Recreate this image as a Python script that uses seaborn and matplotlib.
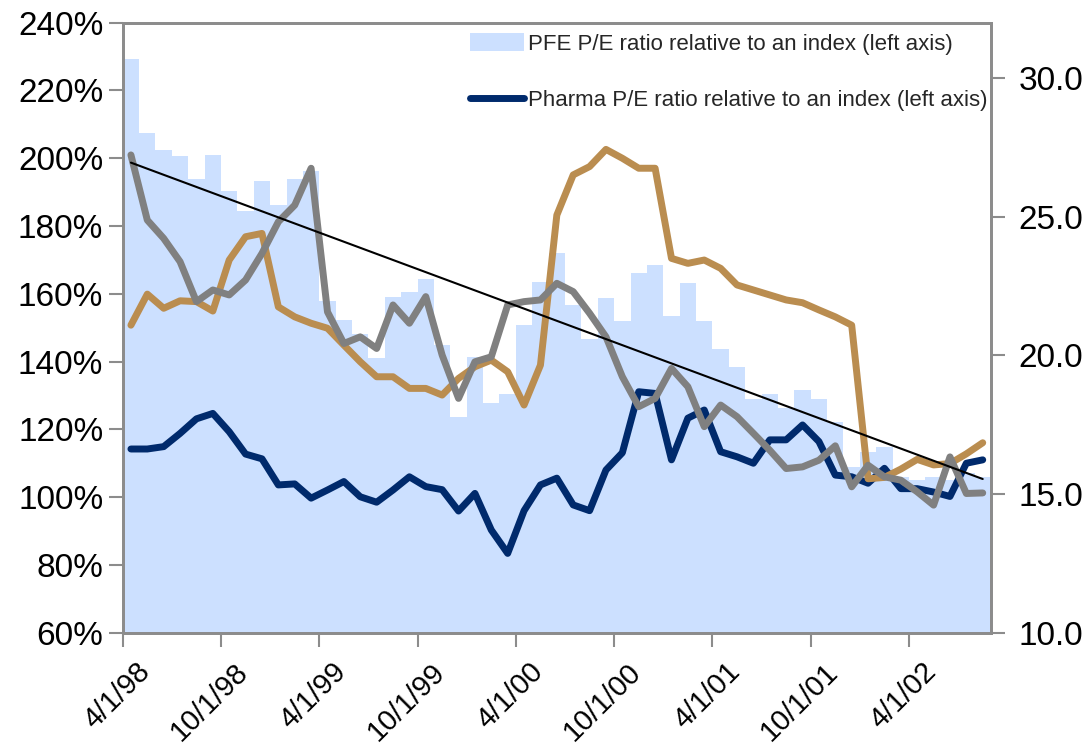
import numpy as np
import matplotlib
matplotlib.use("Agg")
import matplotlib.pyplot as plt
import matplotlib.transforms as mtransforms
import seaborn as sns

# monthly observations, 4/1/98 .. 8/1/02
months = list(range(53))
tick_labels = ['4/1/98', '10/1/98', '4/1/99', '10/1/99', '4/1/00',
               '10/1/00', '4/1/01', '10/1/01', '4/1/02']

# PFE P/E relative to index (%, left axis)
pfe_rel = [229.4, 207.5, 202.4, 200.8, 193.8, 201.0, 190.3, 184.5, 193.2, 186.1,
           194.0, 196.2, 158.0, 152.3, 148.0, 141.0, 159.2, 160.6, 164.4, 144.9,
           123.6, 141.4, 127.7, 130.3, 150.8, 163.6, 172.0, 156.7, 146.6, 158.9,
           152.0, 166.1, 168.5, 153.5, 163.1, 152.0, 143.7, 138.5, 129.0, 130.3,
           126.4, 131.6, 129.0, 122.3, 109.0, 113.4, 114.7, 106.0, 105.0, 106.0,
           105.0, 107.0, 106.0]

# Pharma P/E relative to index (%, left axis)
pharma_rel = [114.2, 114.2, 114.9, 118.8, 123.1, 124.7, 119.3, 112.7, 111.3, 103.6,
              103.9, 99.7, 102.1, 104.6, 100.1, 98.5, 102.1, 106.0, 103.1, 102.2,
              95.9, 101.1, 90.3, 83.4, 96.0, 103.6, 105.6, 97.7, 96.0, 108.0,
              113.1, 131.1, 130.6, 111.0, 123.3, 125.7, 113.4, 111.9, 110.0, 116.9,
              116.9, 121.3, 116.4, 106.5, 106.0, 104.1, 108.5, 102.5, 102.5, 101.5,
              100.2, 110.0, 111.0]

# absolute P/E ratios (right axis)
gold_pe = [21.09, 22.21, 21.70, 21.97, 21.94, 21.60, 23.44, 24.28, 24.40, 21.75,
           21.39, 21.16, 20.98, 20.37, 19.77, 19.23, 19.23, 18.81, 18.81, 18.57,
           19.17, 19.59, 19.83, 19.41, 18.21, 19.65, 25.06, 26.51, 26.81, 27.43,
           27.11, 26.75, 26.75, 23.50, 23.32, 23.44, 23.14, 22.54, 22.36, 22.18,
           22.00, 21.90, 21.64, 21.39, 21.09, 15.55, 15.60, 15.90, 16.25, 16.05,
           16.10, 16.45, 16.85]
gray_pe = [27.23, 24.88, 24.22, 23.38, 21.94, 22.36, 22.18, 22.72, 23.68, 24.82,
           25.42, 26.75, 21.57, 20.43, 20.67, 20.25, 21.82, 21.16, 22.12, 20.01,
           18.45, 19.77, 19.95, 21.82, 21.94, 22.00, 22.60, 22.30, 21.52, 20.67,
           19.23, 18.15, 18.45, 19.53, 18.87, 17.43, 18.21, 17.79, 17.19, 16.58,
           15.92, 15.98, 16.22, 16.74, 15.26, 16.04, 15.62, 15.50, 15.08, 14.60,
           16.34, 15.02, 15.04]

light_blue = '#CCE0FF'
navy = '#002A6C'
gold = '#BA8D50'
gray = '#808080'
spine_gray = '#8C8C8C'

sns.set_style('white')
plt.rcParams['font.family'] = ['Liberation Sans', 'DejaVu Sans']

fig = plt.figure(figsize=(10.9, 7.46), dpi=100)
ax = fig.add_axes([0.1126, 0.1519, 0.7965, 0.8177])
ax2 = ax.twinx()

x = np.array(months) + 0.5

ax.bar(x, pfe_rel, width=1.0, color=light_blue, linewidth=0, zorder=1,
       label='PFE P/E ratio relative to an index (left axis)')
sns.lineplot(x=x, y=pharma_rel, ax=ax, color=navy, linewidth=5,
             solid_capstyle='round', solid_joinstyle='round', zorder=3,
             label='Pharma P/E ratio relative to an index (left axis)')

sns.lineplot(x=x, y=gold_pe, ax=ax2, color=gold, linewidth=5,
             solid_joinstyle='round', zorder=3, legend=False)
sns.lineplot(x=x, y=gray_pe, ax=ax2, color=gray, linewidth=5,
             solid_joinstyle='round', zorder=4, legend=False)

# linear trend of the PFE relative P/E, drawn on top of everything
slope, icpt = np.polyfit(x, pfe_rel, 1)
ends = np.array([x[0], x[-1]])
ax2.plot(ends, slope * ends + icpt, color='black', linewidth=1.5,
         transform=ax.transData, zorder=6)

ax.set_xlim(0, 53)
ax.set_ylim(60, 240)
ax2.set_ylim(10, 32)

ax.set_xticks(np.arange(0, 53, 6))
ax.set_xticklabels(tick_labels, rotation=45, ha='right', va='top',
                   rotation_mode='anchor')
ax.set_yticks(np.arange(60, 241, 20))
ax.set_yticklabels([f'{v}%' for v in range(60, 241, 20)])
ax2.set_yticks([10, 15, 20, 25, 30])
ax2.set_yticklabels(['10.0', '15.0', '20.0', '25.0', '30.0'])

for a in (ax, ax2):
    for s in a.spines.values():
        s.set_color(spine_gray)
        s.set_linewidth(2)
    a.tick_params(length=10, width=1.5, color=spine_gray, labelsize=24,
                  labelcolor='black')
ax.tick_params(axis='y', left=True, pad=4)
ax.tick_params(axis='x', bottom=True, pad=8, labelsize=21)
ax2.tick_params(axis='y', right=True, pad=10)
ax.set_zorder(ax2.get_zorder() - 1)
ax2.patch.set_visible(False)

# shift rotated date labels a bit to the right like the original
offset = mtransforms.ScaledTranslation(0.13, 0, fig.dpi_scale_trans)
for lbl in ax.get_xticklabels():
    lbl.set_transform(lbl.get_transform() + offset)

handles, labels = ax.get_legend_handles_labels()
order = [labels.index(l) for l in ['PFE P/E ratio relative to an index (left axis)',
                                   'Pharma P/E ratio relative to an index (left axis)']]
ax.legend([handles[i] for i in order], [labels[i] for i in order],
          loc='upper left', bbox_to_anchor=(0.385, 1.005), frameon=False,
          fontsize=16, handlelength=2.4, handleheight=0.9,
          handletextpad=0.2, labelspacing=1.55, borderaxespad=0.2)

plt.savefig('out.png', dpi=100)
